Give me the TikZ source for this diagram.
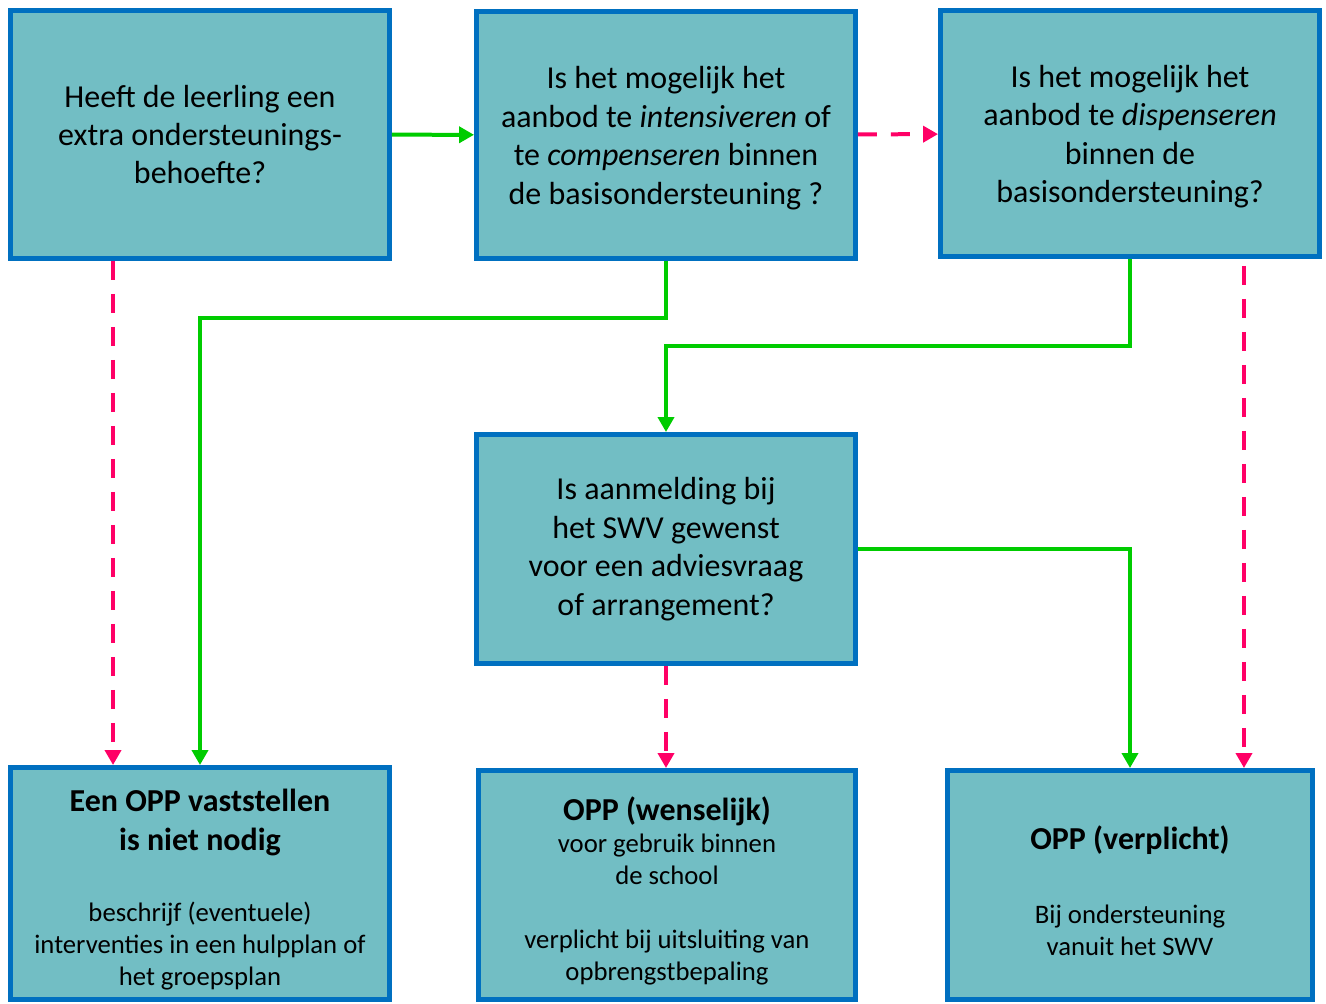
\documentclass[tikz,border=0pt]{standalone}
\usepackage{fontspec}
\setmainfont{Carlito}
\usetikzlibrary{arrows.meta,positioning}
\definecolor{oppblauw}{HTML}{0070C0}
\definecolor{oppteal}{HTML}{72BEC4}
\definecolor{jagroen}{HTML}{00CC00}
\definecolor{neeroze}{HTML}{FF0066}

\begin{document}
\begin{tikzpicture}[x=0.02cm, y=-0.02cm]
\tikzset{
    vraag/.style={rectangle, draw=oppblauw, fill=oppteal, line width=0.1cm, minimum width=7.58cm, minimum height=4.96cm, inner sep=0pt, align=center, font=\fontsize{18.2}{21.9}\selectfont},
    uitkomst/.style={vraag, align=flush center, text width=7.2cm, minimum height=4.64cm, font=\fontsize{15.2}{18.2}\selectfont},
    ja/.style={draw=jagroen, line width=0.08cm, -{Triangle[length=0.3cm, width=0.32cm]}},
    nee/.style={draw=neeroze, line width=0.08cm, dash pattern=on 0.38cm off 0.28cm, -{Triangle[length=0.3cm, width=0.32cm]}}
}
\newcommand\kopfont{\fontsize{18.2}{22.2}\selectfont\bfseries\rule{0pt}{20pt}}
\useasboundingbox (0,0) rectangle (1326,1004);

\node[vraag] (behoefte) at (200,134.5) {Heeft de leerling een\\ extra ondersteunings-\\ behoefte?};
\node[vraag, minimum height=4.94cm] (intensiveren) at (666,135) {\rule{0pt}{16pt}Is het mogelijk het\\ aanbod te \textit{intensiveren} of\\ te \textit{compenseren} binnen\\ de basisondersteuning ?};
\node[vraag, minimum height=4.92cm] (dispenseren) at (1130,133.5) {\rule{0pt}{16pt}Is het mogelijk het\\ aanbod te \textit{dispenseren}\\ binnen de\\ basisondersteuning?};
\node[vraag, minimum height=4.58cm] (aanmelding) at (666,549) {Is aanmelding bij\\ het SWV gewenst\\ voor een adviesvraag\\ of arrangement?};

\node[uitkomst] (geenopp) at (200,883.5) {{\kopfont Een OPP vaststellen\\ is niet nodig\par}\vspace{22pt}
    beschrijf (eventuele)\\ interventies in een hulpplan of\\ het groepsplan};
\node[uitkomst, minimum width=7.54cm, minimum height=4.58cm] (wenselijk) at (667,885) {{\kopfont OPP (wenselijk)\par}
    voor gebruik binnen\\ de school\\[18.2pt] verplicht bij uitsluiting van\\ opbrengstbepaling};
\node[uitkomst, minimum width=7.3cm, text width=7cm, minimum height=4.58cm] (verplicht) at (1130,885) {{\kopfont OPP (verplicht)\par}\vspace{24pt}
    Bij ondersteuning\\ vanuit het SWV};

% ja-pijlen (groen) en nee-pijlen (roze, gestreept)
\draw[ja] (behoefte) -- (intensiveren);
\draw[nee] (intensiveren) -- (dispenseren);
\draw[nee] ([xshift=-1.74cm]behoefte.south) -- ([xshift=-1.74cm]geenopp.north);
\draw[ja] (intensiveren.south) -- ++(0,57) -| (geenopp.north);
\draw[ja] (dispenseren.south) -- ++(0,87) -| (aanmelding.north);
\draw[nee] ([xshift=2.28cm,yshift=-0.14cm]dispenseren.south) -- ([xshift=2.28cm]verplicht.north);
\draw[ja] (aanmelding.east) -| (verplicht.north);
\draw[nee] (aanmelding.south) -- (aanmelding.south |- wenselijk.north);

\end{tikzpicture}
\end{document}
